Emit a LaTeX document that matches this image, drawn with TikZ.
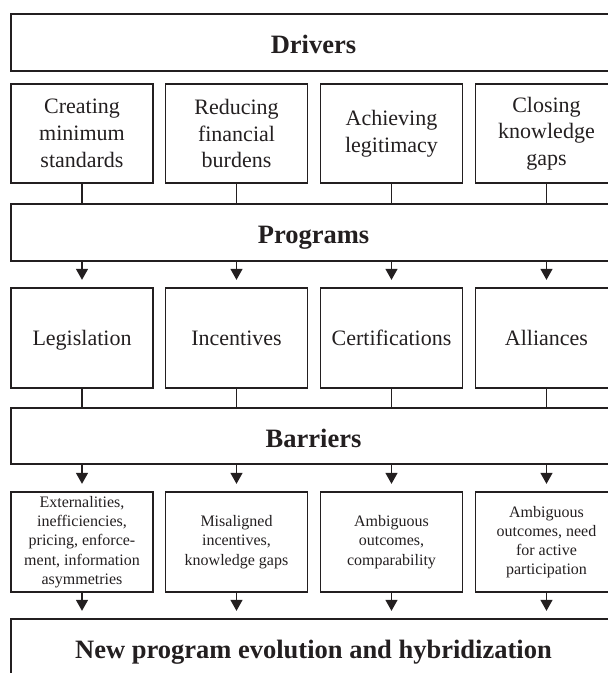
\documentclass[tikz,border=0pt]{standalone}
\usepackage{fontspec}
\setmainfont{Liberation Serif}
\usetikzlibrary{arrows.meta}
\definecolor{ink}{HTML}{231F20}
\begin{document}
\begin{tikzpicture}[x=1pt,y=-1pt,line width=1.3pt,
  box/.style={draw=ink,rectangle,inner sep=0pt,minimum width=142pt,text=ink,align=center},
  head/.style={draw=ink,rectangle,inner sep=0pt,minimum width=605pt,minimum height=57pt,text=ink,
    text height=22pt,text depth=0pt,font=\fontsize{26.5}{30}\selectfont\bfseries},
  lab/.style={font=\fontsize{22}{26.7}\selectfont},
  one/.style={text height=15pt,text depth=0pt},
  small/.style={font=\fontsize{16}{19.2}\selectfont},
  arr/.style={draw=ink,-{Triangle[width=12pt,length=11pt]},shorten >=7.5pt},
  link/.style={draw=ink}]
\clip (0,0) rectangle (608,673);
\useasboundingbox (0,0) rectangle (608,673);
% headers
\node[head] (drv) at (313.5,42.5) {Drivers};
\node[head] (prg) at (313.5,232.5) {Programs};
\node[head,minimum height=56pt] (bar) at (313.5,436) {Barriers};
\node[head] (new) at (313.5,647.5) {New program evolution and hybridization};
% drivers
\node[box,lab,minimum height=99pt] (d1) at (82,133.5) {Creating\\minimum\\standards};
\node[box,lab,minimum height=99pt] (d2) at (236.5,133.5) {Reducing\\financial\\burdens};
\node[box,lab,minimum height=99pt] (d3) at (391.5,133.5) {Achieving\\legitimacy};
\node[box,lab,minimum height=99pt] (d4) at (546.5,133.5) {Closing\\knowledge\\gaps};
% programs
\node[box,lab,one,minimum height=100pt] (p1) at (82,338) {Legislation};
\node[box,lab,one,minimum height=100pt] (p2) at (236.5,338) {Incentives};
\node[box,lab,one,minimum height=100pt] (p3) at (391.5,338) {Certifications};
\node[box,lab,one,minimum height=100pt] (p4) at (546.5,338) {Alliances};
% barriers
\node[box,small,minimum height=100pt] (b1) at (82,542) {Externalities,\\inefficiencies,\\pricing, enforce-\\ment, information\\asymmetries};
\node[box,small,minimum height=100pt] (b2) at (236.5,542) {Misaligned\\incentives,\\knowledge gaps};
\node[box,small,minimum height=100pt] (b3) at (391.5,542) {Ambiguous\\outcomes,\\comparability};
\node[box,small,minimum height=100pt] (b4) at (546.5,542) {Ambiguous\\outcomes, need\\for active\\participation};
% connectors
\foreach \i in {1,2,3,4}{
  \draw[link] (d\i.south) -- (d\i.south |- prg.north);
  \draw[arr] (p\i.north |- prg.south) -- (p\i.north);
  \draw[link] (p\i.south) -- (p\i.south |- bar.north);
  \draw[arr] (b\i.north |- bar.south) -- (b\i.north);
  \draw[arr] (b\i.south) -- (b\i.south |- new.north);
}
\end{tikzpicture}
\end{document}
